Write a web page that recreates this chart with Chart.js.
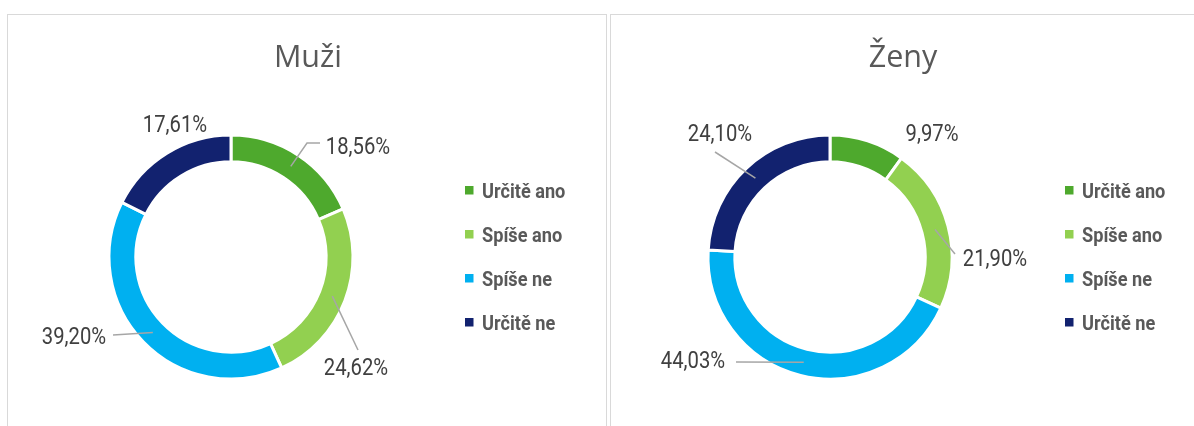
<!DOCTYPE html>
<html>
<head>
<meta charset="utf-8">
<script src="https://cdn.jsdelivr.net/npm/chart.js@4.4.1/dist/chart.umd.min.js"></script>
<style>
  body { margin: 0; background: #fff; width: 1194px; height: 426px; overflow: hidden; position: relative; }
  .panel { position: absolute; top: 14px; width: 600px; height: 430px; border: 1px solid #d9d9d9; box-sizing: border-box; background: #fff; }
  #p1 { left: 7px; }
  #p2 { left: 610px; }
  .panel canvas { position: absolute; left: 0; top: 0; }
</style>
</head>
<body>
<div class="panel" id="p1"><canvas id="men" width="598" height="411"></canvas></div>
<div class="panel" id="p2"><canvas id="women" width="598" height="411"></canvas></div>

<script>
// ---- data ----
const categories = ['Určitě ano', 'Spíše ano', 'Spíše ne', 'Určitě ne'];
const menValues = [18.56, 24.62, 39.20, 17.61];
const womenValues = [9.97, 21.90, 44.03, 24.10];
const chartTitles = ['Muži', 'Ženy'];

const SLICE_COLORS = ['#4EA92D', '#92D050', '#00B0F0', '#12226F'];

const fmtPct = v => v.toFixed(2).replace('.', ',') + '%';

// text squeezed horizontally to mimic a condensed face
function condensedText(ctx, text, x, y, sx) {
    ctx.save();
    ctx.translate(x, y);
    ctx.scale(sx, 1);
    ctx.fillText(text, 0, 0);
    ctx.restore();
}

// title, data labels with leader lines, legend
const decorPlugin = {
    id: 'decor',
    afterDraw(chart, args, opts) {
        const ctx = chart.ctx;
        const meta = chart.getDatasetMeta(0);
        const values = chart.data.datasets[0].data;

        ctx.save();
        ctx.textBaseline = 'alphabetic';

        // title
        ctx.font = '400 30.5px "Open Sans"';
        ctx.fillStyle = '#595959';
        ctx.textAlign = 'center';
        ctx.fillText(opts.title, opts.titleX, opts.titleY);

        // data labels
        ctx.strokeStyle = '#A6A6A6';
        ctx.lineWidth = 1.5;
        ctx.font = '400 23px Roboto';
        ctx.fillStyle = '#404040';
        meta.data.forEach((arc, i) => {
            const p = arc.getProps(['x', 'y', 'startAngle', 'endAngle', 'innerRadius', 'outerRadius'], true);
            const mid = (p.startAngle + p.endAngle) / 2;
            const rm = (p.innerRadius + p.outerRadius) / 2;
            const lab = opts.labels[i];
            if (lab.leader) {
                ctx.beginPath();
                ctx.moveTo(p.x + Math.cos(mid) * rm, p.y + Math.sin(mid) * rm);
                lab.leader.forEach(([dx, dy]) => ctx.lineTo(p.x + dx, p.y + dy));
                ctx.stroke();
            }
            condensedText(ctx, fmtPct(values[i]), p.x + lab.dx, p.y + lab.dy + 8.2, 0.88);
        });

        // legend
        ctx.font = '700 21px Roboto';
        ctx.textAlign = 'left';
        chart.data.labels.forEach((l, i) => {
            const y = opts.legendY + i * opts.legendGap;
            ctx.fillStyle = chart.data.datasets[0].backgroundColor[i];
            ctx.fillRect(opts.legendX, y - 4, 8.5, 8.5);
            ctx.fillStyle = '#595959';
            condensedText(ctx, l, opts.legendX + 17, y + 7.5, 0.865);
        });
        ctx.restore();
    }
};

function makeDonut(id, values, title, pad, decor) {
    return new Chart(document.getElementById(id), {
        type: 'doughnut',
        data: {
            labels: categories,
            datasets: [{
                data: values,
                backgroundColor: SLICE_COLORS,
                borderColor: '#ffffff',
                borderWidth: 3,
                hoverOffset: 0
            }]
        },
        options: {
            responsive: false,
            animation: false,
            cutout: '78%',
            layout: { padding: pad },
            plugins: {
                legend: { display: false },
                title: { display: false },
                tooltip: { enabled: false },
                decor: Object.assign({ title }, decor)
            }
        },
        plugins: [decorPlugin]
    });
}

makeDonut('men', menValues, chartTitles[0],
    { left: 99.5, top: 118.5, right: 251.5, bottom: 45.5 },
    {
        titleX: 300, titleY: 51.7,
        legendX: 457, legendY: 175, legendGap: 44,
        labels: [
            { dx: 127, dy: -111, leader: [[76, -114], [89, -114]] },
            { dx: 125, dy: 110, leader: [[127, 93]] },
            { dx: -157, dy: 79, leader: [[-118, 78]] },
            { dx: -56, dy: -133 }
        ]
    });

makeDonut('women', womenValues, chartTitles[1],
    { left: 95.5, top: 118.5, right: 255.5, bottom: 45.5 },
    {
        titleX: 292, titleY: 51.7,
        legendX: 454, legendY: 175, legendGap: 44,
        labels: [
            { dx: 102, dy: -124 },
            { dx: 165, dy: 1, leader: [[125, -3]] },
            { dx: -137, dy: 103, leader: [[-94, 105]] },
            { dx: -110, dy: -124, leader: [[-115, -105]] }
        ]
    });
</script>
</body>
</html>
